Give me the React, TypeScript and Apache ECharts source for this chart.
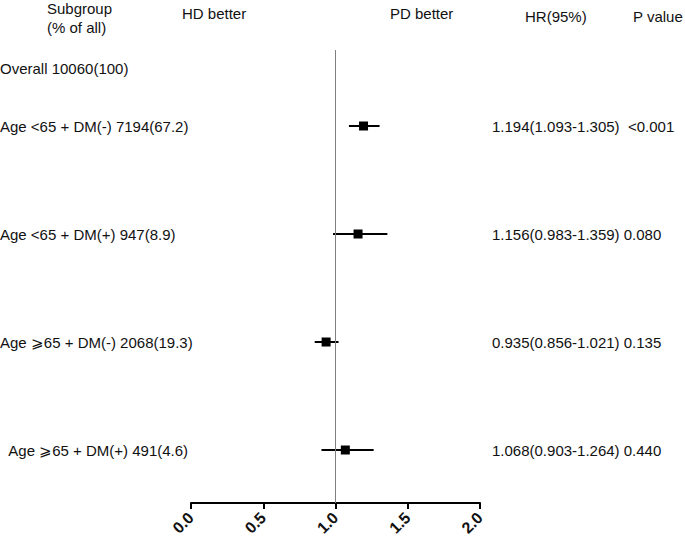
import React, { useEffect, useRef } from "react";
import * as echarts from "echarts";

const subgroups = [
  "Age <65 + DM(-) 7194(67.2)",
  "Age <65 + DM(+) 947(8.9)",
  "Age \u2A7E65 + DM(-) 2068(19.3)",
  "\u00a0\u00a0Age \u2A7E65 + DM(+) 491(4.6)",
];
const overallLabel = "Overall 10060(100)";
const hrValues = [1.194, 1.156, 0.935, 1.068];
const lowerCI = [1.093, 0.983, 0.856, 0.903];
const upperCI = [1.305, 1.359, 1.021, 1.264];
const pValues = ["\u00a0<0.001", "0.080", "0.135", "0.440"];
const headers = {
  subgroup: "Subgroup",
  subgroup2: "(% of all)",
  left: "HD better",
  right: "PD better",
  hr: "HR(95%)",
  p: "P value",
};

const FONT = '"Liberation Sans", Arial, Helvetica, sans-serif';
const TXT = "#111";

export default function App() {
  const ref = useRef<HTMLDivElement>(null);
  useEffect(() => {
    document.body.style.margin = "0";
    const chart = echarts.init(ref.current!, undefined, { renderer: "svg" });
    const OVERALL_ROW = -0.53;
    const data: any[] = [[NaN, NaN, NaN, OVERALL_ROW, overallLabel, ""]];
    subgroups.forEach((s, i) => {
      const hrText =
        hrValues[i].toFixed(3) +
        "(" + lowerCI[i].toFixed(3) + "-" + upperCI[i].toFixed(3) + ") " + pValues[i];
      data.push([hrValues[i], lowerCI[i], upperCI[i], i, s, hrText]);
    });
    const textStyle = (text: string, weight = "normal") => ({
      text,
      fill: TXT,
      fontSize: 15,
      fontFamily: FONT,
      fontWeight: weight,
      align: "left",
      verticalAlign: "middle",
      textAlign: "left",
      textVerticalAlign: "middle",
    });
    const option: any = {
      animation: false,
      backgroundColor: "#fff",
      grid: { left: 191, right: 205, top: 50, bottom: 40 },
      xAxis: {
        type: "value",
        min: 0,
        max: 2,
        interval: 0.5,
        axisLine: { show: true, onZero: false, lineStyle: { color: "#000", width: 2 } },
        axisTick: { show: true, length: 6, lineStyle: { color: "#000", width: 2 } },
        splitLine: { show: false },
        axisLabel: {
          rotate: 45,
          margin: 12,
          color: "#111",
          fontSize: 16,
          fontWeight: "bold",
          fontFamily: FONT,
          formatter: (v: number) => v.toFixed(1),
        },
      },
      yAxis: {
        type: "value",
        inverse: true,
        min: -0.7037,
        max: 3.4907,
        show: false,
        splitLine: { show: false },
      },
      graphic: [
        { type: "text", x: 47, y: 8, style: textStyle(headers.subgroup) },
        { type: "text", x: 47, y: 27, style: textStyle(headers.subgroup2) },
        { type: "text", x: 182, y: 13, style: textStyle(headers.left) },
        { type: "text", x: 390, y: 13, style: textStyle(headers.right) },
        { type: "text", x: 525, y: 16, style: textStyle(headers.hr) },
        { type: "text", x: 633, y: 16, style: textStyle(headers.p) },
      ],
      series: [
        {
          type: "custom",
          clip: false,
          encode: { x: [0, 1, 2], y: 3 },
          data,
          renderItem: (params: any, api: any) => {
            const row = api.value(3);
            const y = api.coord([0, row])[1];
            const label = data[params.dataIndex][4];
            const rightText = data[params.dataIndex][5];
            const children: any[] = [
              { type: "text", x: 0, y, style: textStyle(label) },
            ];
            const hr = api.value(0);
            if (!isNaN(hr)) {
              const p0 = api.coord([api.value(1), row]);
              const p1 = api.coord([api.value(2), row]);
              const pc = api.coord([hr, row]);
              children.push({
                type: "line",
                shape: { x1: p0[0], y1: y, x2: p1[0], y2: y },
                style: { stroke: "#000", lineWidth: 2 },
              });
              children.push({
                type: "rect",
                shape: { x: pc[0] - 4.5, y: y - 4.5, width: 9, height: 9 },
                style: { fill: "#000" },
              });
              children.push({ type: "text", x: 492, y, style: textStyle(rightText) });
            }
            return { type: "group", children };
          },
          markLine: {
            silent: true,
            symbol: "none",
            label: { show: false },
            lineStyle: { color: "#808080", width: 1, type: "solid" },
            data: [{ xAxis: 1 }],
          },
        },
      ],
    };
    chart.setOption(option);
    return () => chart.dispose();
  }, []);
  return <div ref={ref} style={{ width: 685, height: 543 }} />;
}
